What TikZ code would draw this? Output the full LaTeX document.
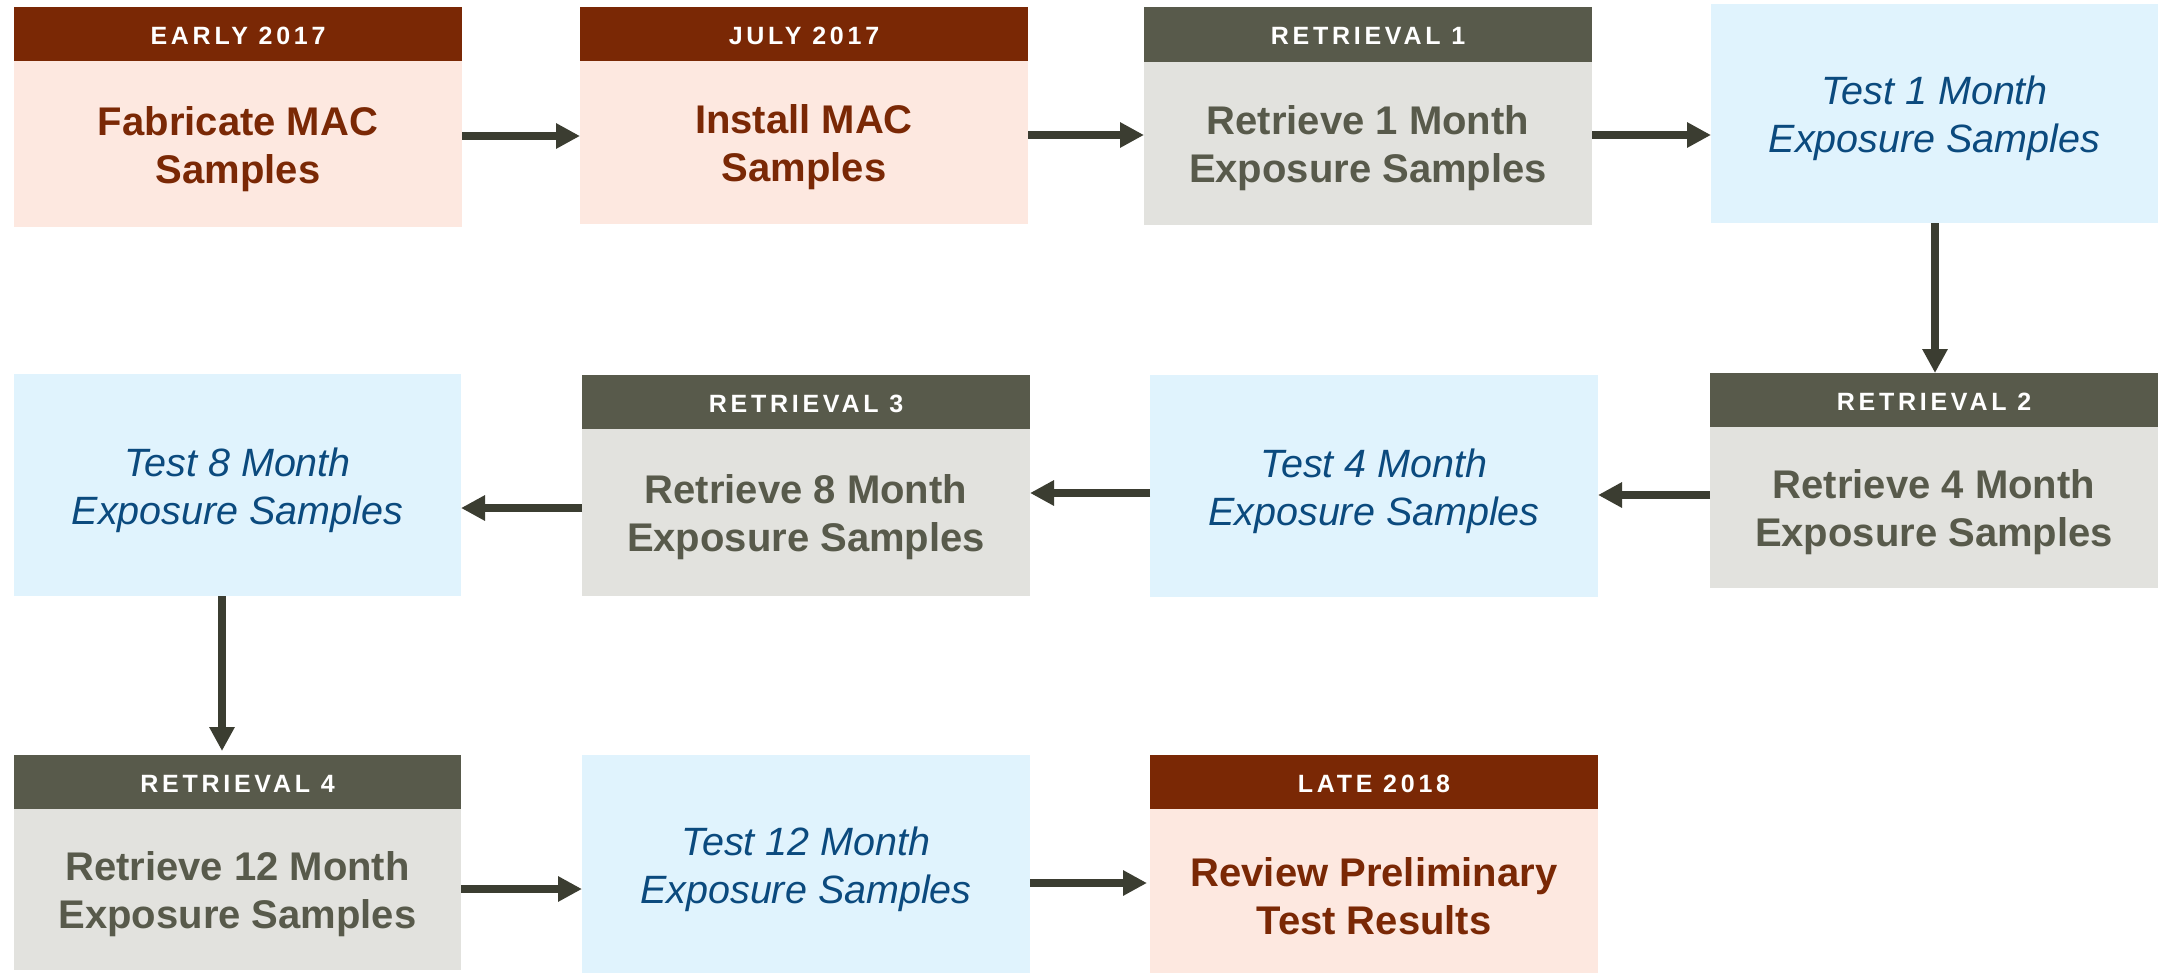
\documentclass[tikz,border=0pt]{standalone}
\usepackage{fontspec}
\setmainfont{Liberation Sans}
\usetikzlibrary{arrows.meta}
\definecolor{brownH}{HTML}{7A2805}
\definecolor{pinkB}{HTML}{FDE8E0}
\definecolor{grayH}{HTML}{585A4B}
\definecolor{grayB}{HTML}{E2E2DE}
\definecolor{blueB}{HTML}{E0F3FD}
\definecolor{blueT}{HTML}{0B4A7E}
\definecolor{arrC}{HTML}{3B3D31}
\tikzset{
  base/.style={anchor=north west, inner sep=0pt, outer sep=0pt, minimum width=448pt},
  txt/.style={inner sep=0pt, align=center},
  hdr/.style={base, minimum height=54pt},
  brownhdr/.style={hdr, fill=brownH},
  grayhdr/.style={hdr, fill=grayH},
  hdrtxt/.style={txt, text=white, yshift=-1.5pt,
    font=\fontsize{25}{30}\selectfont\bfseries\addfontfeature{LetterSpace=15}},
  brownbody/.style={base, fill=pinkB},
  graybody/.style={base, fill=grayB},
  testbox/.style={base, fill=blueB},
  browntxt/.style={txt, text=brownH, yshift=-5pt, font=\fontsize{40}{48}\selectfont\bfseries},
  graytxt/.style={txt, text=grayH, yshift=-5pt, font=\fontsize{40}{48}\selectfont\bfseries},
  bluetxt/.style={txt, text=blueT, yshift=-5pt, font=\fontsize{39.5}{48}\selectfont\itshape},
  arr/.style={draw=arrC, line width=8.5pt, -{Triangle[length=24pt,width=24pt]}}
}
\begin{document}
\begin{tikzpicture}[x=1pt,y=-1pt]
\useasboundingbox[fill=white] (0,0) rectangle (2164,975);
% Row 1
\node[brownhdr] (h1) at (14,7) {};
\node[hdrtxt] (h1t) at (h1.center) {EARLY 2017};
\node[brownbody, minimum height=166pt] (b1) at (14,61) {};
\node[browntxt] (b1t) at (b1.center) {Fabricate MAC\\Samples};
\node[brownhdr] (h2) at (580,7) {};
\node[hdrtxt] (h2t) at (h2.center) {JULY 2017};
\node[brownbody, minimum height=163pt] (b2) at (580,61) {};
\node[browntxt] (b2t) at (b2.center) {Install MAC\\Samples};
\node[grayhdr, minimum height=55pt] (h3) at (1144,7) {};
\node[hdrtxt] (h3t) at (h3.center) {RETRIEVAL 1};
\node[graybody, minimum height=163pt] (b3) at (1144,62) {};
\node[graytxt] (b3t) at (b3.center) {Retrieve 1 Month\\Exposure Samples};
\node[testbox, minimum width=447pt, minimum height=219pt] (t1) at (1711,4) {};
\node[bluetxt] (t1t) at (t1.center) {Test 1 Month\\Exposure Samples};
% Row 2
\node[testbox, minimum width=447pt, minimum height=222pt] (t8) at (14,374) {};
\node[bluetxt] (t8t) at (t8.center) {Test 8 Month\\Exposure Samples};
\node[grayhdr] (h6) at (582,375) {};
\node[hdrtxt] (h6t) at (h6.center) {RETRIEVAL 3};
\node[graybody, minimum height=167pt] (b6) at (582,429) {};
\node[graytxt] (b6t) at (b6.center) {Retrieve 8 Month\\Exposure Samples};
\node[testbox, minimum height=222pt] (t4) at (1150,375) {};
\node[bluetxt] (t4t) at (t4.center) {Test 4 Month\\Exposure Samples};
\node[grayhdr] (h5) at (1710,373) {};
\node[hdrtxt] (h5t) at (h5.center) {RETRIEVAL 2};
\node[graybody, minimum height=161pt] (b5) at (1710,427) {};
\node[graytxt] (b5t) at (b5.center) {Retrieve 4 Month\\Exposure Samples};
% Row 3
\node[grayhdr, minimum width=447pt] (h8) at (14,755) {};
\node[hdrtxt] (h8t) at (h8.center) {RETRIEVAL 4};
\node[graybody, minimum width=447pt, minimum height=161pt] (b8) at (14,809) {};
\node[graytxt] (b8t) at (b8.center) {Retrieve 12 Month\\Exposure Samples};
\node[testbox, minimum height=218pt] (t12) at (582,755) {};
\node[bluetxt] (t12t) at (t12.center) {Test 12 Month\\Exposure Samples};
\node[brownhdr] (h10) at (1150,755) {};
\node[hdrtxt] (h10t) at (h10.center) {LATE 2018};
\node[brownbody, minimum height=164pt] (b10) at (1150,809) {};
\node[browntxt] (b10t) at (b10.center) {Review Preliminary\\Test Results};
% arrow levels
\coordinate (ya) at (0,136);
\coordinate (yb) at (0,135);
\coordinate (yc) at (0,495);
\coordinate (yd) at (0,493);
\coordinate (ye) at (0,508);
\coordinate (yf) at (0,889);
\coordinate (yg) at (0,883);
\coordinate (xa) at (1935,0);
\coordinate (xb) at (222,0);
% arrows
\draw[arr] (b1.east |- ya) -- (b2.west |- ya);
\draw[arr] (b2.east |- yb) -- (b3.west |- yb);
\draw[arr] (b3.east |- yb) -- (t1.west |- yb);
\draw[arr] (xa |- t1.south) -- (xa |- h5.north);
\draw[arr] (b5.west |- yc) -- (t4.east |- yc);
\draw[arr] (t4.west |- yd) -- (b6.east |- yd);
\draw[arr] (b6.west |- ye) -- (t8.east |- ye);
\draw[arr] (xb |- t8.south) -- ([yshift=4pt]xb |- h8.north);
\draw[arr] (b8.east |- yf) -- (t12.west |- yf);
\draw[arr] (t12.east |- yg) -- ([xshift=-3pt]b10.west |- yg);
\end{tikzpicture}
\end{document}
